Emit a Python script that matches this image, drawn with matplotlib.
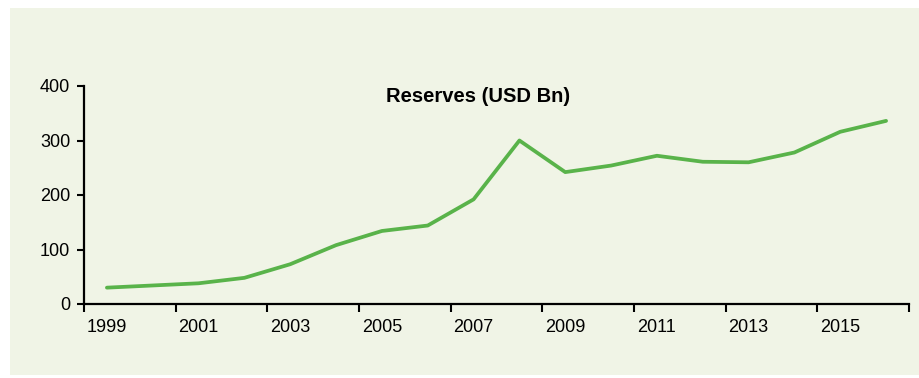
import matplotlib.pyplot as plt
from matplotlib.patches import Rectangle
import numpy as np

years = list(range(1999, 2017))
reserves = [30, 34, 38, 48, 73, 108, 134, 144, 192, 300, 242, 254, 272, 261, 260, 278, 316, 336]
label_years = [1999, 2001, 2003, 2005, 2007, 2009, 2011, 2013, 2015]

plt.rcParams['font.family'] = ['Liberation Sans Narrow', 'Liberation Sans', 'DejaVu Sans']

fig = plt.figure(figsize=(9.19, 3.78), dpi=100)
fig.patch.set_facecolor('white')

# light green panel behind the chart
bg = fig.add_axes([0, 0, 1, 1], zorder=-1)
bg.axis('off')
bg.add_patch(Rectangle((10 / 919, 1 - 375 / 378), 909 / 919, 367 / 378,
                       transform=bg.transAxes, facecolor='#f0f4e6', edgecolor='none'))

ax = fig.add_axes([84 / 919, 1 - 304 / 378, 825 / 919, 218 / 378])
ax.set_facecolor('none')
ax.plot(years, reserves, color='#59b34a', linewidth=2.7, solid_capstyle='round',
        solid_joinstyle='round')

ax.set_xlim(1998.5, 2016.5)
ax.set_ylim(0, 400)
ax.set_yticks([0, 100, 200, 300, 400])

# tick marks at category boundaries, labels on the years
ax.set_xticks(np.arange(1998.5, 2017, 2))
ax.set_xticklabels([])
ax.set_xticks(label_years, minor=True)
ax.set_xticklabels([str(y) for y in label_years], minor=True)
ax.tick_params(axis='x', which='minor', length=0, pad=11, labelsize=13)
ax.tick_params(axis='x', which='major', length=6, width=1.5, direction='out')
ax.tick_params(axis='y', length=5, width=1.5, labelsize=13, pad=5)

for s in ['top', 'right']:
    ax.spines[s].set_visible(False)
for s in ['left', 'bottom']:
    ax.spines[s].set_linewidth(1.6)

fig.text(478 / 919, 1 - 97 / 378, 'Reserves (USD Bn)',
         ha='center', va='center', fontsize=14.5, fontweight='bold')

fig.savefig('out.png', dpi=100, facecolor='white')
